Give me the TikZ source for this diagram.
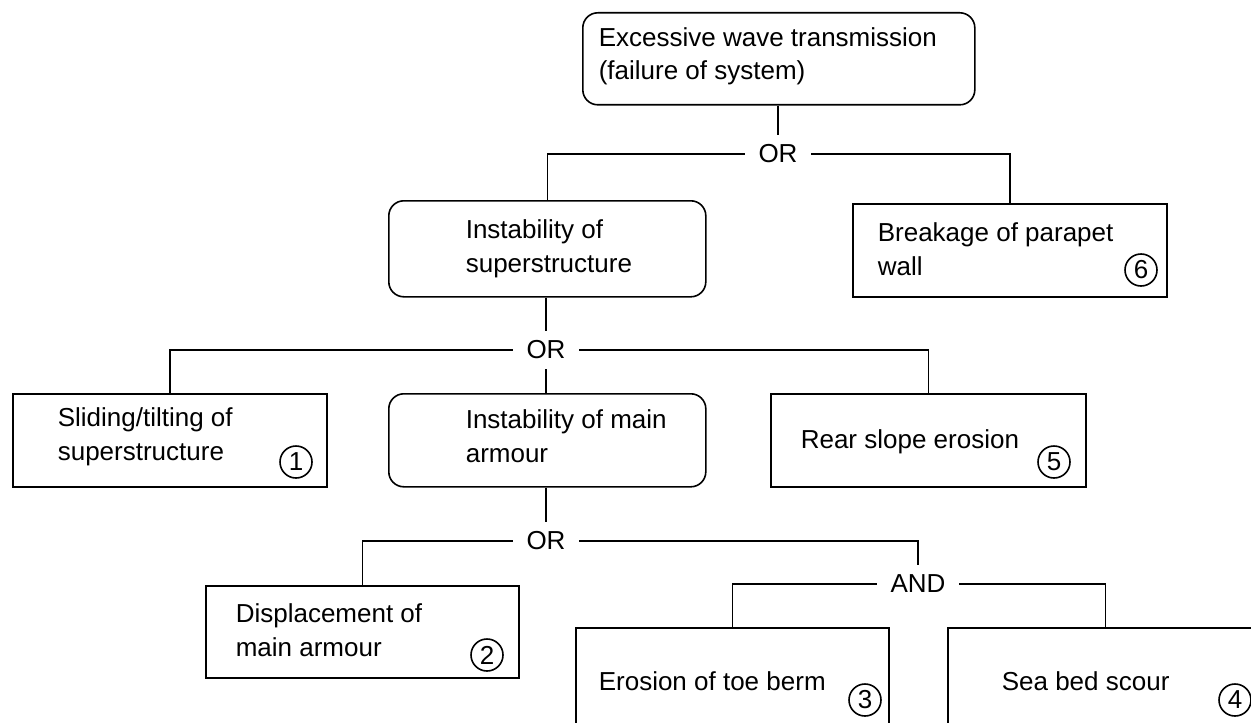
\documentclass[tikz,border=0pt]{standalone}
\usepackage{fontspec}
\setmainfont{Liberation Sans}

\begin{document}
\begin{tikzpicture}[x=0.5pt,y=-0.5pt,line width=0.8pt,
  every node/.style={font=\fontsize{13}{17}\selectfont},
  evbox/.style={draw,anchor=north west,inner sep=0pt},
  evround/.style={evbox,rounded corners=7.5pt},
  evtext/.style={anchor=base west,inner sep=0pt,align=left},
  evnum/.style={draw,circle,minimum size=16pt,inner sep=0pt},
  gate/.style={inner xsep=6.5pt,inner ysep=4.5pt}]
\useasboundingbox (0,0) rectangle (1251,722);
\clip (0,0) rectangle (1251,722);
% top event
\node[evround,minimum width=196pt,minimum height=46pt] (top) at (582,12) {};
\node[evtext] (toptxt) at (598,80) {Excessive wave transmission\\(failure of system)};
\node[gate] (or1) at (778,154) {OR};
% second level
\node[evround,minimum width=158.5pt,minimum height=48pt] (sup) at (388,200) {};
\node[evtext] (suptxt) at (465,272) {Instability of\\superstructure};
\node[evbox,minimum width=157pt,minimum height=46.5pt] (brk) at (852,203) {};
\node[evtext] (brktxt) at (877,275) {Breakage of parapet\\wall};
\node[evnum] (n6) at (1141,270) {6};
\node[gate] (or2) at (546,350) {OR};
% third level
\node[evbox,minimum width=157pt,minimum height=46.5pt] (slide) at (12,393) {};
\node[evtext] (slidetxt) at (57,460) {Sliding/tilting of\\superstructure};
\node[evnum] (n1) at (296,462) {1};
\node[evround,minimum width=158.5pt,minimum height=46.5pt] (arm) at (388,393) {};
\node[evtext] (armtxt) at (465,462) {Instability of main\\armour};
\node[evbox,minimum width=157.5pt,minimum height=46.5pt] (rear) at (770,393) {};
\node[evtext] (reartxt) at (800,448) {Rear slope erosion};
\node[evnum] (n5) at (1054,462) {5};
\node[gate] (or3) at (546,541) {OR};
% fourth level
\node[evbox,minimum width=156.5pt,minimum height=46pt] (disp) at (205,585) {};
\node[evtext] (disptxt) at (235,656) {Displacement of\\main armour};
\node[evnum] (n2) at (487,655) {2};
\node[gate] (and) at (918,584) {AND};
\node[evbox,minimum width=156.5pt,minimum height=66.5pt] (toe) at (575,627) {};
\node[evtext] (toetxt) at (598,690) {Erosion of toe berm};
\node[evnum] (n3) at (865,700) {3};
\node[evbox,minimum width=157.5pt,minimum height=66.5pt] (scour) at (947,627) {};
\node[evtext] (scourtxt) at (1001,690) {Sea bed scour};
\node[evnum] (n4) at (1235,700) {4};
% connectors
\draw (or1.north |- top.south) -- (or1.north);
\draw (or1.west) -| (sup.north);
\draw (or1.east) -| (brk.north);
\draw (or2.north |- sup.south) -- (or2.north);
\draw (or2.south) -- (or2.south |- arm.north);
\draw (or2.west) -| (slide.north);
\draw (or2.east) -| (rear.north);
\draw (or3.north |- arm.south) -- (or3.north);
\draw (or3.west) -| (disp.north);
\draw (or3.east) -| (and.north);
\draw (and.west) -| (toe.north);
\draw (and.east) -| (scour.north);
\end{tikzpicture}
\end{document}
